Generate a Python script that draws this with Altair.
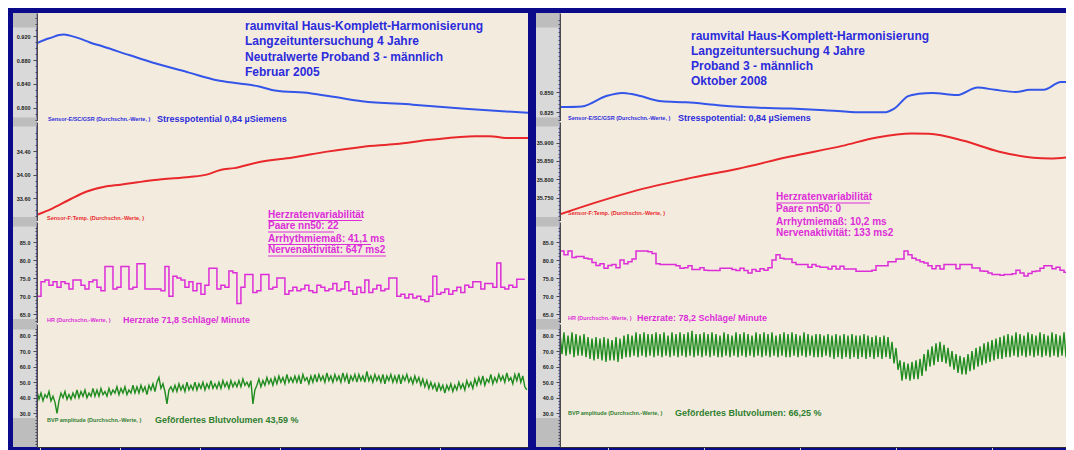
import json
import altair as alt
import pandas as pd

FONT = "Liberation Sans"
NAVY = "#0a0a8a"
STRIP = "#d9d9d9"
BAND = "#bdbdbd"
BEIGE = "#f4ebdf"
BLUE_TXT = "#2b2bdb"
BLUE_LINE = "#3355e8"
RED = "#e8282a"
MAG = "#dc2ed8"
GREEN_LINE = "#1e8c1e"
GREEN_TXT = "#2f7f2f"

# ---------------- data (time in minutes) ----------------
L_XDOM = [-0.2, 30.5]
R_XDOM = [-3.0, 28.625]
L_XTICKS = [0, 5, 10, 15, 20, 25]
R_XTICKS = [0, 6, 12, 18, 24]

L_GSR_T = [-0.2, 0.30, 0.74, 1.11, 1.49, 1.86, 2.49, 3.11, 3.93, 5.61, 7.18, 9.30, 11.05,
           12.56, 13.62, 14.68, 16.87, 18.43, 20.12, 23.31, 26.56, 30.5]
L_GSR_V = [0.9085, 0.914, 0.918, 0.9215, 0.9229, 0.921, 0.916, 0.9095, 0.9027, 0.888, 0.8746,
           0.8590, 0.8463, 0.8405, 0.836, 0.8290, 0.8244, 0.818, 0.8111, 0.8053, 0.7984, 0.7915]

L_TMP_T = [-0.19, 0.71, 1.79, 2.87, 3.95, 5.02, 6.10, 7.60, 9.33, 10.40, 11.27, 12.13, 13.64,
           15.79, 17.94, 20.10, 22.25, 24.40, 27.20, 28.06, 29.35, 30.5]
L_TMP_V = [33.32, 33.42, 33.57, 33.71, 33.79, 33.83, 33.87, 33.92, 33.96, 34.00, 34.08, 34.11,
           34.21, 34.29, 34.39, 34.47, 34.52, 34.59, 34.65, 34.65, 34.62, 34.62]

R_GSR_T = [-3.0, -1.63, -0.11, 0.88, 1.63, 3.37, 4.88, 7.05, 9.22, 11.39, 13.56, 15.73, 17.24,
           17.89, 18.76, 19.41, 20.28, 21.8, 23.1, 24.19, 25.49, 26.36, 27.23, 28.31, 29.125]
R_GSR_V = [0.8312, 0.8320, 0.8449, 0.8488, 0.8469, 0.8383, 0.8371, 0.8332, 0.8305, 0.8293,
           0.8273, 0.8246, 0.8246, 0.8293, 0.8449, 0.8477, 0.8488, 0.8461, 0.8555, 0.8527,
           0.8500, 0.8527, 0.8527, 0.8625, 0.8625]

R_TMP_T = [-3.0, -0.54, 1.63, 4.88, 8.14, 11.39, 14.64, 16.81, 18.98, 20.06, 22.23, 24.4,
           26.57, 27.66, 29.125]
R_TMP_V = [35.705, 35.740, 35.768, 35.801, 35.829, 35.862, 35.891, 35.914, 35.925, 35.924,
           35.905, 35.876, 35.859, 35.857, 35.862]

# heart rate, one value every 0.25 min (step curve)
HR_DT = 0.25
L_HR = [70, 74, 74.5, 73, 74, 72.5, 74, 73.5, 72, 74.5,
        74.5, 73, 72, 74, 74.5, 72.5, 71.5, 78.2, 78.2, 72,
        72.5, 78.2, 78.2, 72, 72.5, 79, 79, 72, 72, 72,
        72, 71.5, 78.2, 70, 75.5, 75, 74.5, 72.5, 74, 71.5,
        73.5, 70.5, 73, 77.7, 77.7, 72, 73, 72.5, 77, 76.5,
        68, 72.5, 76, 76, 71, 71.5, 76, 76, 72, 72.5,
        75, 75, 70.5, 71.5, 72.5, 71.5, 72, 73, 71.5, 71,
        73, 72.5, 71.5, 72, 73.5, 71.5, 72, 74, 71.5, 70.5,
        72.5, 71, 74.5, 71, 72, 73, 71.5, 72, 75, 75,
        70, 70.5, 69.5, 70.5, 69.5, 70, 69, 68.5, 70, 75.5,
        70.5, 71, 72, 70.5, 71.5, 72.5, 71, 73, 72.5, 74,
        74, 72, 73.5, 73.5, 72.5, 79.2, 72.5, 72, 73, 72.5,
        74.7, 74.7, 74.7]
R_HR = [82.5, 81.5, 82.5, 80.7, 81, 81, 80.5, 80.3, 79.3, 78.5,
        79, 77.7, 78.5, 78.8, 77.9, 80, 79, 79.5, 80.3, 82.5,
        82.5, 82.5, 82.3, 81.8, 79, 78.8, 78.8, 78.8, 78.8, 78.4,
        77.7, 77.9, 78.4, 77.4, 77.4, 77.9, 77.2, 77.1, 77.1, 77.1,
        77.7, 77.7, 77.7, 77.4, 77.1, 77.7, 77.1, 76.4, 77.4, 76.9,
        77.6, 77.2, 77.9, 80, 81.5, 80.5, 80.3, 80.3, 79.3, 78.8,
        78.8, 78.8, 78, 78.8, 78.3, 78, 78, 77.5, 78.3, 77.5,
        78.3, 77.5, 77.5, 77.5, 76.9, 76.9, 76.9, 76.9, 77.2, 78.4,
        78.4, 78.4, 79.5, 79.5, 80.3, 80.3, 82.5, 81.5, 80.5, 80,
        79.5, 79.2, 78.4, 77.6, 78.4, 77.5, 78.8, 78.8, 78.8, 77.6,
        78.8, 78.8, 78.8, 77.8, 77.8, 77, 76.9, 76.4, 76, 76,
        75.8, 76, 76, 76.2, 77.2, 76.4, 75.6, 76.3, 76.8, 77,
        77.7, 78.4, 78.4, 77.6, 78, 77.2, 76.6, 76.6, 76.6]

# blood volume pulse amplitude, one value every 0.125 min
BVP_DT = 0.125
L_BVP = [44, 39, 43, 38, 42, 40, 44, 38, 41, 37,
         30, 38, 43, 40, 44, 39, 42, 39, 43, 40,
         45, 40, 44, 41, 45, 40, 43, 41, 46, 41,
         45, 41, 46, 42, 44, 41, 46, 42, 45, 43,
         47, 42, 46, 43, 47, 42, 45, 43, 48, 43,
         47, 43, 48, 44, 47, 42, 48, 45, 49, 44,
         50, 53, 46, 49, 44, 36, 45, 47, 44, 48,
         44, 49, 45, 48, 44, 50, 45, 48, 45, 50,
         45, 49, 46, 50, 45, 49, 46, 51, 46, 49,
         46, 50, 46, 51, 47, 50, 46, 51, 47, 50,
         47, 51, 47, 52, 48, 50, 47, 51, 36, 45,
         48, 52, 47, 51, 48, 53, 49, 52, 48, 53,
         49, 54, 50, 53, 49, 55, 50, 53, 50, 54,
         50, 54, 49, 55, 51, 53, 49, 54, 50, 55,
         50, 55, 51, 54, 50, 56, 51, 54, 50, 55,
         51, 54, 50, 56, 51, 55, 49, 54, 51, 55,
         50, 55, 51, 54, 50, 57, 51, 54, 50, 55,
         51, 54, 50, 55, 49, 54, 51, 55, 50, 54,
         50, 55, 49, 54, 51, 55, 50, 53, 49, 54,
         50, 53, 48, 52, 47, 51, 46, 50, 46, 49,
         44, 49, 45, 48, 43, 48, 45, 49, 44, 48,
         45, 50, 46, 49, 45, 51, 47, 50, 46, 52,
         48, 53, 49, 54, 48, 52, 50, 55, 49, 53,
         50, 55, 51, 54, 50, 56, 51, 53, 49, 55,
         51, 56, 50, 54, 47, 45]
R_BVP = [81, 68, 82, 67, 80, 68, 82, 66, 81, 67,
         80, 67, 81, 66, 79, 65, 78, 64, 79, 65,
         78, 64, 79, 63, 78, 64, 77, 64, 79, 63,
         78, 65, 80, 66, 81, 66, 80, 67, 82, 66,
         81, 67, 82, 66, 81, 67, 81, 66, 82, 67,
         81, 66, 82, 67, 80, 66, 82, 67, 81, 66,
         82, 67, 81, 66, 82, 67, 83, 66, 81, 67,
         81, 66, 82, 67, 81, 66, 82, 67, 81, 66,
         80, 66, 82, 67, 81, 66, 80, 67, 82, 66,
         81, 67, 82, 66, 81, 67, 80, 66, 82, 67,
         81, 66, 82, 67, 81, 66, 82, 67, 80, 66,
         81, 67, 82, 66, 81, 66, 82, 67, 81, 66,
         80, 67, 82, 66, 81, 67, 80, 66, 81, 66,
         81, 66, 80, 67, 81, 66, 80, 65, 81, 66,
         80, 65, 81, 66, 80, 65, 81, 66, 80, 65,
         80, 66, 81, 65, 80, 66, 79, 65, 80, 66,
         79, 65, 80, 66, 79, 65, 76, 62, 72, 58,
         64, 51, 63, 52, 62, 51, 63, 52, 64, 52,
         65, 54, 68, 57, 71, 60, 73, 61, 75, 63,
         76, 63, 74, 62, 72, 60, 70, 58, 68, 56,
         67, 55, 66, 55, 68, 57, 70, 58, 72, 60,
         73, 61, 75, 62, 76, 63, 77, 64, 78, 65,
         79, 65, 80, 66, 81, 66, 80, 67, 82, 66,
         81, 67, 80, 66, 82, 67, 81, 66, 80, 67,
         82, 66, 81, 67, 80, 66, 82, 67, 81, 66,
         80, 67, 82, 66, 81, 67, 80, 66]

# axis tick values
L_GSR_MAJ = [0.92, 0.88, 0.84, 0.8]
R_GSR_MAJ = [0.85, 0.825]
L_TMP_MAJ = [34.4, 34.0, 33.6]
R_TMP_MAJ = [35.9, 35.85, 35.8, 35.75]
HR_MAJ = [85, 80, 75, 70, 65]
BVP_MAJ = [80, 70, 60, 50, 40, 30]

LEFT_TITLE = ["raumvital Haus-Komplett-Harmonisierung", "Langzeituntersuchung 4 Jahre",
              "Neutralwerte Proband 3 - männlich", "Februar 2005"]
RIGHT_TITLE = ["raumvital Haus-Komplett-Harmonisierung", "Langzeituntersuchung 4 Jahre",
               "Proband 3 - männlich", "Oktober 2008"]
L_HRV = ["Herzratenvariabilität", "Paare nn50: 22", "Arrhythmiemaß: 41,1 ms", "Nervenaktivität: 647 ms2"]
R_HRV = ["Herzratenvariabilität", "Paare nn50: 0", "Arrhytmiemaß: 10,2 ms", "Nervenaktivität: 133 ms2"]

LW, RW = 491, 506
H1, H2, H3, H4 = 109, 100, 102, 123


# ---------------- helpers ----------------
def blank():
    return alt.Chart(alt.Data(values=[{}]))


def rect(x1, x2, y1, y2, color):
    return blank().mark_rect(color=color).encode(
        x=alt.value(x1), x2=alt.value(x2), y=alt.value(y1), y2=alt.value(y2))


def txt(s, x, y, size, color):
    return blank().mark_text(text=s, align="left", baseline="middle", font=FONT,
                             fontSize=size, fontWeight="bold", color=color).encode(
        x=alt.value(x), y=alt.value(y))


def uline(x1, x2, y, color):
    return blank().mark_rule(color=color, strokeWidth=1).encode(
        x=alt.value(x1), x2=alt.value(x2), y=alt.value(y))


def yaxis(majors, minors, fmt):
    test = "indexof(" + json.dumps(majors) + ", datum.value) >= 0"
    return alt.Axis(values=minors, format=fmt, labelExpr=test + " ? datum.label : ''",
                    tickSize={"condition": {"test": test, "value": 4}, "value": 2},
                    domainColor="#4a4a4a", domainWidth=1, tickColor="#4a4a4a", tickWidth=1,
                    labelFont=FONT, labelFontSize=5.5, labelFontWeight="bold",
                    labelColor="#202020", labelPadding=3, labelOverlap=False,
                    labelFlush=False, grid=False, title=None, zindex=1,
                    minExtent=24, maxExtent=24)


def xaxis(ticks):
    return alt.Axis(values=ticks, labelExpr="datum.value + ':00'", domainColor="#303030",
                    tickColor="#d0d0d0", tickSize=4, labelColor="#c8c8c8", labelFont=FONT,
                    labelFontSize=7, labelPadding=2, grid=False, title=None, zindex=1,
                    labelFlush=False)


def line(t, v, xdom, ydom, yax, color, sw, interp, xax=None):
    df = pd.DataFrame({"t": t, "v": v})
    return alt.Chart(df).mark_line(color=color, strokeWidth=sw, interpolate=interp,
                                   clip=True).encode(
        x=alt.X("t:Q", scale=alt.Scale(domain=xdom, nice=False, zero=False), axis=xax),
        y=alt.Y("v:Q", scale=alt.Scale(domain=ydom, nice=False, zero=False), axis=yax))


def sampled(start, dt, vals):
    return [start + i * dt for i in range(len(vals))]


def panel(line_chart, width, height, bands, extras, frame=(), seam=True):
    layers = list(frame)
    top = -1 if seam else 0
    layers.append(rect(-24, -0.5, top, height, STRIP))
    if seam:
        layers.append(rect(0, width, -1, 1, BEIGE))
    layers += [rect(-24, -0.5, (top if a == 0 else a), b, BAND) for a, b in bands]
    layers += [line_chart] + extras
    return alt.layer(*layers).properties(width=width, height=height)


B1 = [(0, 14.5), (104.5, 109)]
B2 = [(0, 4.5), (95, 100)]
B3 = [(0, 4.5), (97, 102)]
B4 = [(0, 5.5), (94, 123)]

# navy frame pieces fix the outer bounds (left border, top border, middle bar)
L_FRAME = [rect(-29, -24, -5, H1, NAVY), rect(-29, LW, -5, 0, NAVY)]
R_FRAME = [rect(-32, -24, -5, H1, NAVY), rect(-32, RW, -5, 0, NAVY)]

# ---------------- left column ----------------
l1 = panel(line(L_GSR_T, L_GSR_V, L_XDOM, [0.7762, 0.9589],
                yaxis(L_GSR_MAJ, [k / 1000 for k in range(780, 956, 10)], ".3f"),
                BLUE_LINE, 2, "monotone"), LW, H1, B1,
           [txt(s, 208, y, 12, BLUE_TXT) for s, y in zip(LEFT_TITLE, [12.5, 28, 43.5, 59])],
           L_FRAME, seam=False)

l2 = panel(line(L_TMP_T, L_TMP_V, L_XDOM, [33.197, 34.892],
                yaxis(L_TMP_MAJ, [k / 10 for k in range(332, 348)], ".2f"),
                RED, 2, "monotone"), LW, H2, B2,
           [txt("Sensor-E/SC/GSR (Durchschn.-Werte, )", 11, -3, 5.5, BLUE_TXT),
            txt("Stresspotential 0,84 µSiemens", 120, -3, 9, BLUE_TXT),
            txt(L_HRV[0], 231, 92.5, 10, MAG), uline(231, 325, 98.5, MAG)])

l3 = panel(line(sampled(L_XDOM[0], HR_DT, L_HR), L_HR, L_XDOM, [62.29, 90.54],
                yaxis(HR_MAJ, list(range(63, 90)), ".1f"),
                MAG, 1.5, "step-after"), LW, H3, B3,
           [txt("Sensor-F:Temp. (Durchschn.-Werte, )", 10, -4, 5.5, RED),
            txt(L_HRV[1], 231, 4, 10, MAG), uline(231, 297, 10, MAG),
            txt(L_HRV[2], 231, 16.5, 10, MAG), uline(231, 334, 22.5, MAG),
            txt(L_HRV[3], 231, 28, 10, MAG), uline(231, 349, 34, MAG)])

l4 = panel(line(sampled(L_XDOM[0], BVP_DT, L_BVP), L_BVP, L_XDOM, [8.34, 87.39],
                yaxis(BVP_MAJ, list(range(10, 86, 2)), ".1f"),
                GREEN_LINE, 1.4, "linear", xaxis(L_XTICKS)), LW, H4, B4,
           [txt("HR (Durchschn.-Werte, )", 10, -4, 5.5, MAG),
            txt("Herzrate 71,8 Schläge/ Minute", 86, -4, 9, MAG),
            txt("BVP amplitude (Durchschn.-Werte, )", 10, 96, 5.5, GREEN_TXT),
            txt("Gefördertes Blutvolumen 43,59 %", 118, 96, 9, GREEN_TXT)])

# ---------------- right column ----------------
r1 = panel(line(R_GSR_T, R_GSR_V, R_XDOM, [0.8125, 0.94875],
                yaxis(R_GSR_MAJ, [k / 1000 for k in range(815, 945, 5)], ".3f"),
                BLUE_LINE, 2, "monotone"), RW, H1, B1,
           [txt(s, 131, y, 12, BLUE_TXT) for s, y in zip(RIGHT_TITLE, [23, 38, 53, 67.5])],
           R_FRAME, seam=False)

r2 = panel(line(R_TMP_T, R_TMP_V, R_XDOM, [35.684, 35.956],
                yaxis(R_TMP_MAJ, [k / 1000 for k in range(35690, 35950, 10)], ".3f"),
                RED, 2, "monotone"), RW, H2, B2,
           [txt("Sensor-E/SC/GSR (Durchschn.-Werte, )", 8, -4, 5.5, BLUE_TXT),
            txt("Stresspotential: 0,84 µSiemens", 118, -4, 9, BLUE_TXT),
            txt(R_HRV[0], 216, 75, 10, MAG), uline(216, 310, 81, MAG),
            txt(R_HRV[1], 216, 87, 10, MAG)])

r3 = panel(line(sampled(R_XDOM[0], HR_DT, R_HR), R_HR, R_XDOM, [62.29, 90.54],
                yaxis(HR_MAJ, list(range(63, 90)), ".1f"),
                MAG, 1.5, "step-after"), RW, H3, B3,
           [txt("Sensor-F:Temp. (Durchschn.-Werte, )", 8, -9, 5.5, RED),
            txt(R_HRV[2], 216, 0, 10, MAG),
            txt(R_HRV[3], 216, 11, 10, MAG)])

r4 = panel(line(sampled(R_XDOM[0], BVP_DT, R_BVP), R_BVP, R_XDOM, [8.34, 87.39],
                yaxis(BVP_MAJ, list(range(10, 86, 2)), ".1f"),
                GREEN_LINE, 1.4, "linear", xaxis(R_XTICKS)), RW, H4, B4,
           [txt("HR (Durchschn.-Werte, )", 8, -6, 5.5, MAG),
            txt("Herzrate: 78,2 Schläge/ Minute", 77, -6, 9, MAG),
            txt("BVP amplitude (Durchschn.-Werte, )", 8, 89, 5.5, GREEN_TXT),
            txt("Gefördertes Blutvolumen: 66,25 %", 115, 89, 9, GREEN_TXT)])

left = alt.vconcat(l1, l2, l3, l4, spacing=0, bounds="flush").resolve_scale(
    x="independent", y="independent")
right = alt.vconcat(r1, r2, r3, r4, spacing=0, bounds="flush").resolve_scale(
    x="independent", y="independent")

chart = alt.hconcat(left, right, spacing=0).resolve_scale(
    x="independent", y="independent").properties(
    padding={"left": 0, "top": 0, "right": 0, "bottom": 0}
).configure(background=NAVY, font=FONT).configure_view(fill=BEIGE, stroke=None)

chart.save("out.html", embed_options={"renderer": "svg", "actions": False})
